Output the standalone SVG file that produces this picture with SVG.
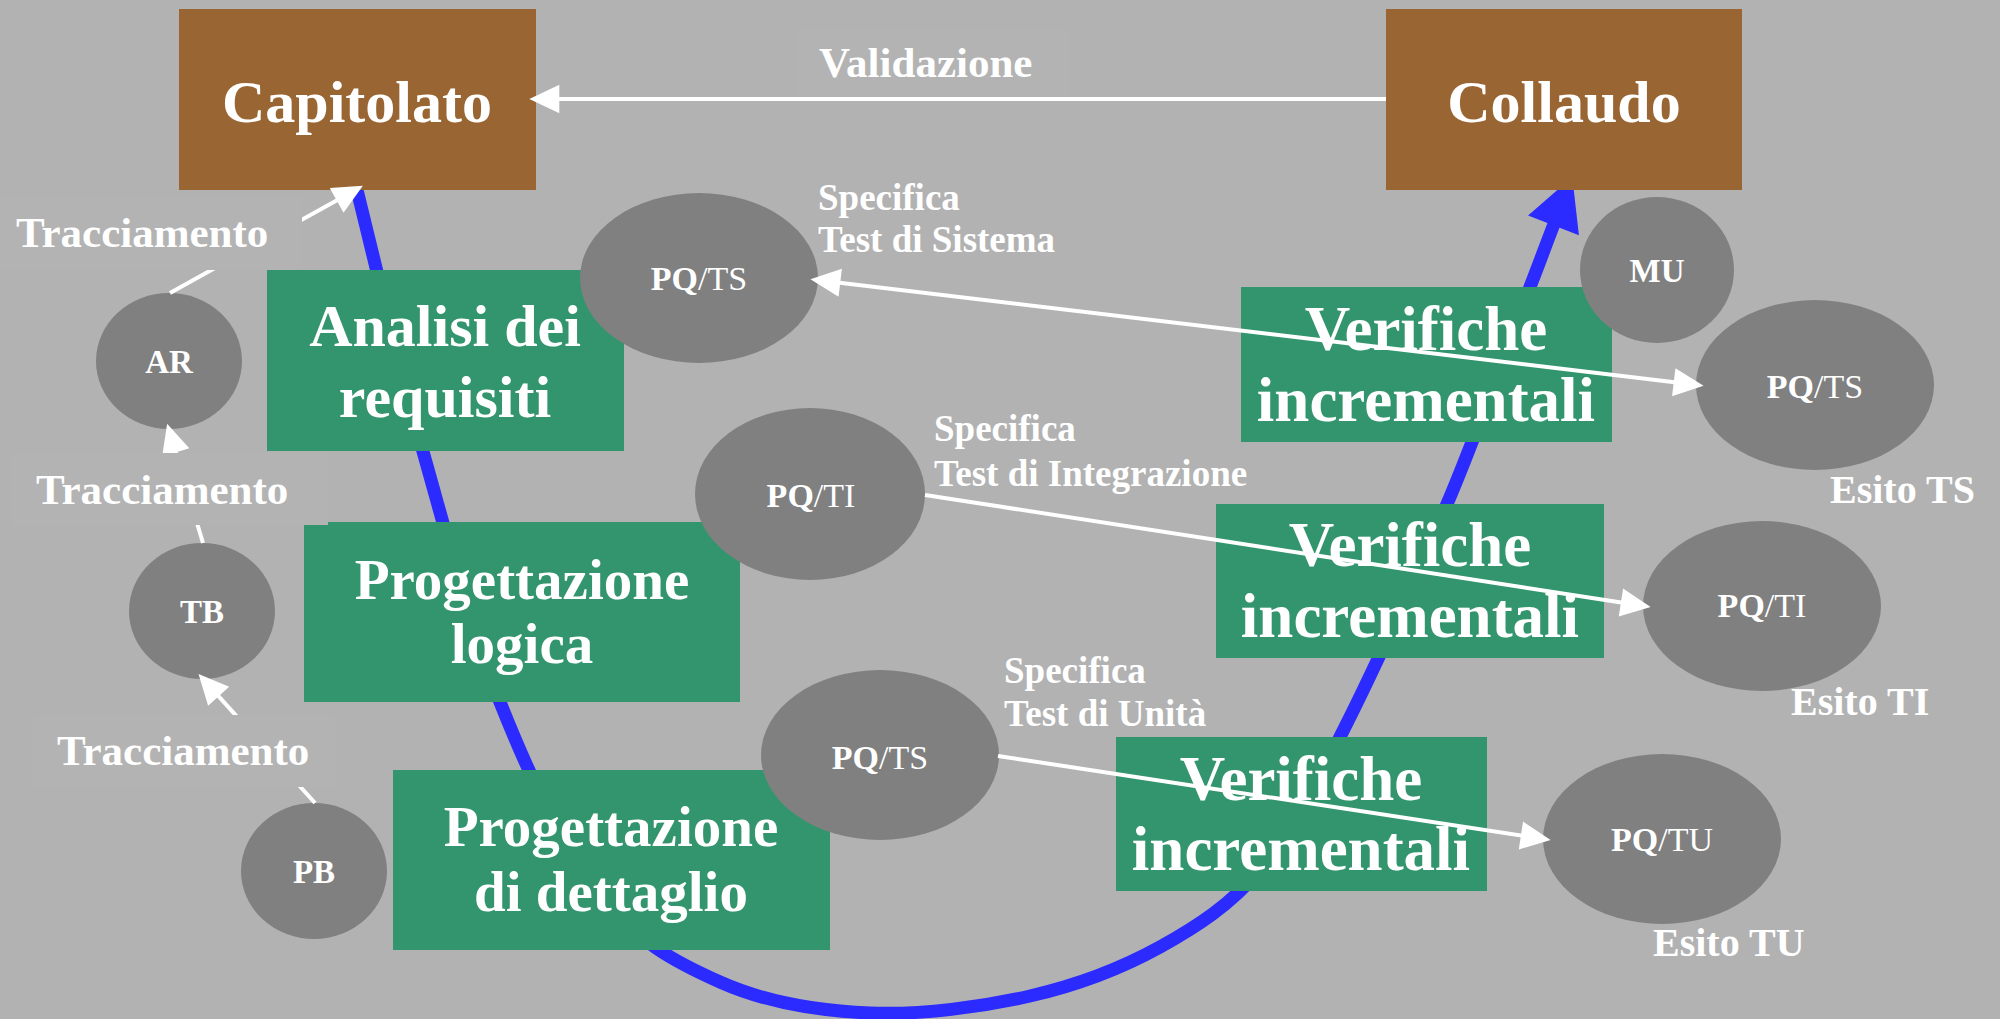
<svg xmlns="http://www.w3.org/2000/svg" width="2000" height="1019" viewBox="0 0 2000 1019">
<style>
text{font-family:"Liberation Serif","DejaVu Serif",serif;font-weight:bold;fill:#ffffff}
.doc{fill:#996633}
.phase{fill:#33956e}
.ell{fill:#808080}
.lbox{fill:#b3b3b3}
.t60{font-size:60px;text-anchor:middle}
.t57{font-size:57px;text-anchor:middle}
.t63{font-size:63px;text-anchor:middle}
.sm{font-size:33px;text-anchor:middle}
.pq{font-size:34px;text-anchor:middle}
.reg{font-weight:normal}
.lab{font-size:43px}
.spec{font-size:37px}
.esito{font-size:40px}
.wl{stroke:#ffffff;stroke-width:4;fill:none}
.flow{stroke:#2b2bff;stroke-width:13;fill:none}
</style>
<defs>
<marker id="wa" markerUnits="userSpaceOnUse" markerWidth="40" markerHeight="40" refX="8" refY="0" viewBox="-2 -12 24 24" orient="auto-start-reverse" overflow="visible">
<path d="M0,-8.5 L18,0 L0,8.5 z" fill="#ffffff"/>
</marker>
<marker id="ba" markerUnits="userSpaceOnUse" markerWidth="60" markerHeight="60" refX="1" refY="0" viewBox="-2 -22 44 44" orient="auto" overflow="visible">
<path d="M0,-20 L38,0 L0,20 z" fill="#2b2bff"/>
</marker>
</defs>
<rect x="0" y="0" width="2000" height="1019" fill="#b2b2b2"/>

<g id="connectors-flow">
<path class="flow" marker-end="url(#ba)" d="M357,190 C368,234 400,370 424,455 C448,540 471,629 500,702 C529,775 563,848 600,895 C637,942 675,962 720,982 C765,1002 818,1011 870,1013 C922,1015 982,1007 1030,996 C1078,985 1122,968 1160,947 C1198,926 1230,905 1260,870 C1290,835 1309,798 1340,737 C1371,676 1415,579 1447,504 C1479,429 1512,334 1530,287 C1539,264 1547,242 1554,224"/>
</g>

<g id="capitolato"><rect class="doc" x="179" y="9" width="357" height="181"/><text class="t60" x="357" y="122">Capitolato</text></g>
<g id="collaudo"><rect class="doc" x="1386" y="9" width="356" height="181"/><text class="t60" x="1564" y="122">Collaudo</text></g>

<g id="analisi"><rect class="phase" x="267" y="270" width="357" height="181"/><text class="t60" x="445" y="346">Analisi dei</text><text class="t60" x="445" y="417">requisiti</text></g>
<g id="prog-logica"><rect class="phase" x="304" y="525" width="436" height="177"/><rect class="phase" x="328" y="522" width="412" height="10"/><text class="t57" x="522" y="599">Progettazione</text><text class="t57" x="522" y="663">logica</text></g>
<g id="prog-dettaglio"><rect class="phase" x="393" y="770" width="437" height="180"/><text class="t57" x="611" y="846">Progettazione</text><text class="t57" x="611" y="911">di dettaglio</text></g>

<g id="verifiche-1"><rect class="phase" x="1241" y="287" width="371" height="155"/><text class="t63" x="1426" y="350">Verifiche</text><text class="t63" x="1426" y="421">incrementali</text></g>
<g id="verifiche-2"><rect class="phase" x="1216" y="504" width="388" height="154"/><text class="t63" x="1410" y="566">Verifiche</text><text class="t63" x="1410" y="637">incrementali</text></g>
<g id="verifiche-3"><rect class="phase" x="1116" y="737" width="371" height="154"/><text class="t63" x="1301" y="800">Verifiche</text><text class="t63" x="1301" y="870">incrementali</text></g>

<g id="ar"><ellipse class="ell" cx="169" cy="361" rx="73" ry="68"/><text class="sm" x="169" y="373">AR</text></g>
<g id="tb"><ellipse class="ell" cx="202" cy="611" rx="73" ry="68"/><text class="sm" x="202" y="623">TB</text></g>
<g id="pb"><ellipse class="ell" cx="314" cy="871" rx="73" ry="68"/><text class="sm" x="314" y="883">PB</text></g>
<g id="mu"><ellipse class="ell" cx="1657" cy="270" rx="77" ry="73"/><text class="sm" x="1657" y="282">MU</text></g>

<g id="pq-ts-spec"><ellipse class="ell" cx="699" cy="278" rx="119" ry="85"/><text class="pq" x="699" y="290">PQ<tspan class="reg">/TS</tspan></text></g>
<g id="pq-ti-spec"><ellipse class="ell" cx="810" cy="494" rx="115" ry="86"/><text class="pq" x="811" y="507">PQ<tspan class="reg">/TI</tspan></text></g>
<g id="pq-tu-spec"><ellipse class="ell" cx="880" cy="755" rx="119" ry="85"/><text class="pq" x="880" y="769">PQ<tspan class="reg">/TS</tspan></text></g>

<g id="pq-ts-esito"><ellipse class="ell" cx="1815" cy="385" rx="119" ry="85"/><text class="pq" x="1815" y="398">PQ<tspan class="reg">/TS</tspan></text></g>
<g id="pq-ti-esito"><ellipse class="ell" cx="1762" cy="606" rx="119" ry="85"/><text class="pq" x="1762" y="617">PQ<tspan class="reg">/TI</tspan></text></g>
<g id="pq-tu-esito"><ellipse class="ell" cx="1662" cy="839" rx="119" ry="85"/><text class="pq" x="1662" y="851">PQ<tspan class="reg">/TU</tspan></text></g>

<g id="connectors">
<line class="wl" x1="1386" y1="99" x2="546" y2="99" marker-end="url(#wa)"/>
<line class="wl" x1="827" y1="281.2" x2="1687" y2="383.8" marker-start="url(#wa)" marker-end="url(#wa)"/>
<line class="wl" x1="925" y1="495" x2="1634.1" y2="604.5" marker-end="url(#wa)"/>
<line class="wl" x1="998" y1="756" x2="1534.1" y2="837.5" marker-end="url(#wa)"/>
<line class="wl" x1="170" y1="293" x2="348.3" y2="193.9" marker-end="url(#wa)"/>
<line class="wl" x1="203" y1="543" x2="171.9" y2="439.6" marker-end="url(#wa)"/>
<line class="wl" x1="315" y1="803" x2="209.7" y2="686.4" marker-end="url(#wa)"/>
</g>

<g id="labels">
<rect class="lbox" x="797" y="30" width="273" height="66"/>
<text class="lab" x="819" y="77">Validazione</text>
<rect class="lbox" x="0" y="197" width="302" height="73"/>
<text class="lab" x="16" y="247">Tracciamento</text>
<rect class="lbox" x="11" y="453" width="317" height="72"/>
<text class="lab" x="36" y="504">Tracciamento</text>
<rect class="lbox" x="33" y="715" width="302" height="72"/>
<text class="lab" x="57" y="765">Tracciamento</text>
<text class="spec" x="818" y="210">Specifica</text>
<text class="spec" x="818" y="252">Test di Sistema</text>
<text class="spec" x="934" y="441">Specifica</text>
<text class="spec" x="934" y="486">Test di Integrazione</text>
<text class="spec" x="1004" y="683">Specifica</text>
<text class="spec" x="1004" y="726">Test di Unità</text>
<text class="esito" x="1830" y="503">Esito TS</text>
<text class="esito" x="1791" y="715">Esito TI</text>
<text class="esito" x="1653" y="956">Esito TU</text>
</g>
</svg>
